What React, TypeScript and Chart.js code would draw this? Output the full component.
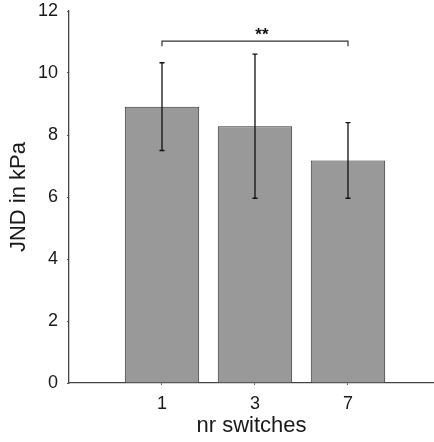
import React, { useEffect, useRef } from "react";
import { Chart, registerables } from "chart.js";

Chart.register(...registerables);

const categories = ["1", "3", "7"];
const jndMeans = [8.91, 8.28, 7.18];
const errUpper = [10.33, 10.61, 8.4];
const errLower = [7.5, 5.96, 5.96];
const yTicks = [0, 2, 4, 6, 8, 10, 12];
const sigFromTo = [0, 2];
const sigLevels = [11.03, 10.86];
const sigLabel = "**";
const sigLabelLevel = 11.39;

const FONT = "'Liberation Sans', Arial, Helvetica, sans-serif";

const overlayPlugin = {
  id: "overlay",
  afterDatasetsDraw(chart: any) {
    const { ctx, scales } = chart;
    const xs = scales.x;
    const ys = scales.y;
    ctx.save();
    ctx.strokeStyle = "#111";
    ctx.lineWidth = 1.3;
    for (let i = 0; i < jndMeans.length; i++) {
      const x = xs.getPixelForValue(i + 1);
      const yt = ys.getPixelForValue(errUpper[i]);
      const yb = ys.getPixelForValue(errLower[i]);
      ctx.beginPath();
      ctx.moveTo(x, yt);
      ctx.lineTo(x, yb);
      ctx.moveTo(x - 2.5, yt);
      ctx.lineTo(x + 2.5, yt);
      ctx.moveTo(x - 2.5, yb);
      ctx.lineTo(x + 2.5, yb);
      ctx.stroke();
    }
    const x1 = xs.getPixelForValue(sigFromTo[0] + 1);
    const x2 = xs.getPixelForValue(sigFromTo[1] + 1);
    const yl = ys.getPixelForValue(sigLevels[0]);
    const yd = ys.getPixelForValue(sigLevels[1]);
    ctx.lineWidth = 1.2;
    ctx.strokeStyle = "#333";
    ctx.beginPath();
    ctx.moveTo(x1, yd);
    ctx.lineTo(x1, yl);
    ctx.lineTo(x2, yl);
    ctx.lineTo(x2, yd);
    ctx.stroke();
    ctx.fillStyle = "#111";
    ctx.font = "bold 17px " + FONT;
    ctx.textAlign = "center";
    ctx.textBaseline = "alphabetic";
    ctx.fillText(sigLabel, (x1 + x2) / 2 + 7, ys.getPixelForValue(sigLabelLevel) + 10);
    ctx.restore();
  },
};

export default function App() {
  const ref = useRef<HTMLCanvasElement | null>(null);
  useEffect(() => {
    if (!ref.current) return;
    Chart.defaults.font.family = FONT;
    Chart.defaults.color = "#1a1a1a";
    const chart = new Chart(ref.current, {
      type: "bar",
      data: {
        datasets: [
          {
            data: jndMeans.map((v, i) => ({ x: i + 1, y: v })),
            backgroundColor: "#999999",
            borderColor: "#333",
            borderWidth: 1,
            barPercentage: 0.8,
            categoryPercentage: 1,
          },
        ],
      },
      options: {
        responsive: false,
        animation: false,
        devicePixelRatio: 1,
        layout: { padding: { top: 0, right: 0, left: 0, bottom: 0 } },
        plugins: { legend: { display: false }, tooltip: { enabled: false } },
        scales: {
          x: {
            type: "linear",
            offset: false,
            min: 0,
            max: 3.925,
            afterBuildTicks: (s: any) => {
              s.ticks = categories.map((_, i) => ({ value: i + 1 }));
            },
            afterFit: (s: any) => {
              s.height = 59;
              s.paddingRight = 0;
            },
            ticks: {
              callback: (v: any) => categories[Number(v) - 1] ?? "",
              font: { size: 18 },
              color: "#1a1a1a",
              padding: 8,
              maxRotation: 0,
            },
            grid: {
              display: true,
              offset: false,
              drawOnChartArea: false,
              drawTicks: true,
              tickLength: 2,
              color: "#555",
            },
            border: { display: true, color: "#444", width: 1.3 },
            title: {
              display: true,
              text: "nr switches",
              font: { size: 22 },
              color: "#1a1a1a",
              padding: { top: 0, bottom: 3 },
            },
          },
          y: {
            type: "linear",
            min: 0,
            max: 12,
            afterBuildTicks: (s: any) => {
              s.ticks = yTicks.map((v) => ({ value: v }));
            },
            afterFit: (s: any) => {
              s.width = 69;
              s.paddingTop = 11;
              s.paddingBottom = 11;
            },
            ticks: {
              font: { size: 18 },
              color: "#1a1a1a",
              padding: 9,
            },
            grid: {
              display: true,
              drawOnChartArea: false,
              drawTicks: true,
              tickLength: 2,
              color: "#555",
            },
            border: { display: true, color: "#444", width: 1.3 },
            title: {
              display: true,
              text: "JND in kPa",
              font: { size: 22 },
              color: "#1a1a1a",
              padding: { top: 6, bottom: 0 },
            },
          },
        },
      },
      plugins: [overlayPlugin],
    } as any);
    return () => chart.destroy();
  }, []);
  return (
    <div style={{ position: "absolute", left: 0, top: 0, width: 434, height: 442 }}>
      <canvas ref={ref} width={434} height={442} />
    </div>
  );
}
